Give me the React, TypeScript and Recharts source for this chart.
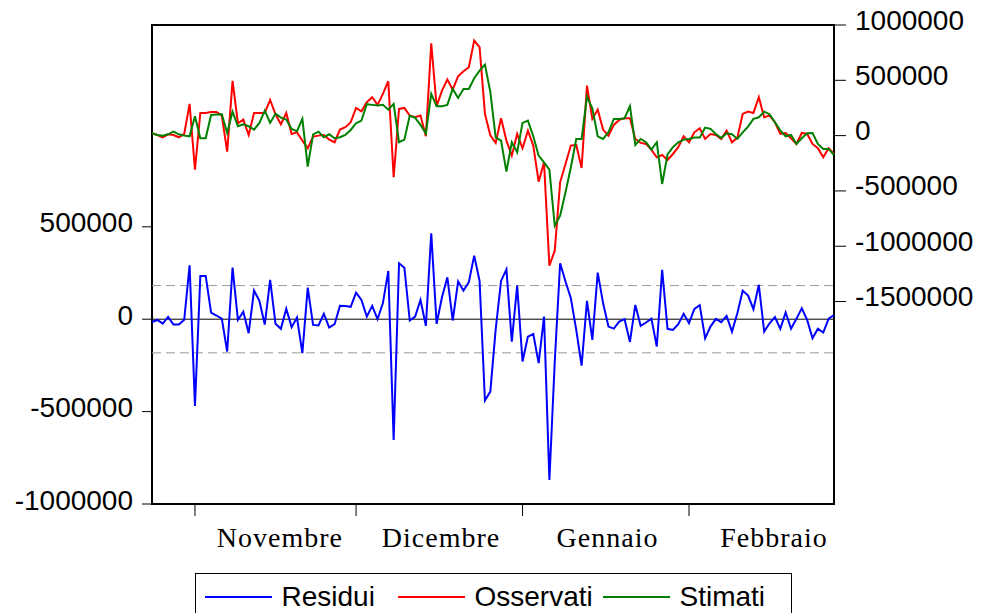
import { LineChart, Line, XAxis, YAxis, ReferenceLine, ReferenceArea } from "recharts";

// valori giornalieri dal 24 ottobre al 28 febbraio
const residui = [
  -15000, -4000, -24000, 12000, -29000, -29000, -3000, 292000, -469000, 234000,
  234000, 36000, 20000, 3000, -175000, 279000, -4000, 41000, -76000, 155000,
  99000, -29000, 213000, -25000, -52000, 57000, -43000, 9000, -184000, 171000,
  -31000, -34000, 29000, -45000, -27000, 72000, 71000, 67000, 144000, 104000,
  14000, 72000, 0, 87000, 261000, -653000, 303000, 279000, -7000, 14000,
  104000, -36000, 465000, -25000, 119000, 227000, -7000, 204000, 155000, 200000,
  344000, 207000, -440000, -392000, -55000, 207000, 270000, -121000, 182000, -229000,
  -94000, -80000, -238000, 14000, -870000, -230000, 303000, 204000, 114000, -58000,
  -251000, 99000, -112000, 252000, 87000, -40000, -51000, -13000, 0, -123000,
  77000, -36000, -18000, 3000, -148000, 267000, -52000, -58000, -27000, 29000,
  -22000, 56000, 76000, -103000, -40000, 2000, -16000, 18000, -67000, 32000,
  155000, 128000, 54000, 186000, -67000, -22000, 11000, -52000, 36000, -52000,
  2000, 59000, -4000, -103000, -52000, -72000, 3000, 23000,
];

const osservati = [
  21000, 6000, -15000, 12000, 6000, -15000, 15000, 287000, -307000, 205000,
  205000, 214000, 214000, 181000, -145000, 495000, 112000, 145000, 6000, 205000,
  205000, 205000, 323000, 193000, 103000, 205000, 15000, 30000, -45000, -114000,
  -9000, 0, 5000, -36000, -60000, 55000, 76000, 121000, 250000, 220000,
  302000, 347000, 278000, 377000, 492000, -376000, 241000, 250000, 181000, 166000,
  181000, -6000, 835000, 266000, 407000, 507000, 416000, 537000, 582000, 618000,
  859000, 799000, 196000, 3000, -66000, 157000, -45000, -181000, 15000, -114000,
  45000, -90000, -416000, -241000, -1175000, -1040000, -422000, -256000, -90000, -84000,
  -292000, 452000, 151000, 235000, 55000, 0, 97000, 142000, 157000, 157000,
  -30000, -66000, -75000, -129000, -196000, -175000, -220000, -166000, -105000, -6000,
  -60000, 30000, 67000, -30000, 15000, 6000, -30000, 45000, -60000, -18000,
  196000, 217000, 205000, 347000, 166000, 181000, 121000, 15000, 24000, -24000,
  -75000, 24000, 15000, -75000, -114000, -196000, -114000, -166000,
];

const stimati = [
  21000, 6000, 0, 12000, 36000, 12000, 0, -6000, 175000, -24000,
  -24000, 187000, 190000, 193000, 24000, 217000, 85000, 103000, 85000, 54000,
  115000, 226000, 115000, 199000, 163000, 145000, 61000, 40000, 151000, -280000,
  12000, 36000, -15000, 12000, -24000, -15000, 6000, 51000, 112000, 136000,
  284000, 278000, 272000, 278000, 235000, 287000, -60000, -36000, 181000, 160000,
  97000, 21000, 377000, 266000, 266000, 278000, 422000, 341000, 422000, 422000,
  519000, 588000, 642000, 395000, -15000, -45000, -325000, -60000, -150000, 115000,
  136000, -6000, -181000, -241000, -307000, -814000, -723000, -512000, -286000, -30000,
  -30000, 353000, 247000, -6000, -30000, 30000, 151000, 151000, 157000, 266000,
  -84000, -30000, -60000, -126000, -60000, -437000, -170000, -105000, -60000, -36000,
  -30000, -18000, -18000, 73000, 61000, 15000, -21000, 21000, 12000, -30000,
  30000, 81000, 151000, 166000, 217000, 193000, 121000, 48000, -6000, 6000,
  -75000, -24000, 21000, 24000, -75000, -120000, -120000, -175000,
];

const monthStarts = [8, 38, 69, 100];
const monthLabels = ["Novembre", "Dicembre", "Gennaio", "Febbraio"];
const leftTicks = [500000, 0, -500000, -1000000];
const rightTicks = [1000000, 500000, 0, -500000, -1000000, -1500000];
const bandLimit = 182000;

const series = [
  { key: "residui", name: "Residui", color: "#0000ff", axis: "left" },
  { key: "osservati", name: "Osservati", color: "#ff0000", axis: "right" },
  { key: "stimati", name: "Stimati", color: "#008000", axis: "right" },
];

const data = residui.map((r, i) => ({
  i,
  residui: r,
  osservati: osservati[i],
  stimati: stimati[i],
}));

const SANS = "'Liberation Sans', Arial, sans-serif";
const SERIF = "'Liberation Serif', 'Times New Roman', serif";

const LeftTick = ({ x, y, payload }: any) => (
  <text x={x} y={y - 4} textAnchor="end" dominantBaseline="central" fontSize={28} fontFamily={SANS} fill="#000">
    {payload.value}
  </text>
);

const RightTick = ({ x, y, payload }: any) => (
  <text x={x} y={y - 5} textAnchor="start" dominantBaseline="central" fontSize={28} fontFamily={SANS} fill="#000">
    {payload.value}
  </text>
);

const MonthTick = ({ x, y, payload }: any) => (
  <text
    x={x + 85}
    y={y + 29}
    textAnchor="middle"
    fontSize={28}
    letterSpacing={1}
    fontFamily={SERIF}
    fill="#000"
  >
    {monthLabels[monthStarts.indexOf(payload.value)]}
  </text>
);

export default function App() {
  return (
    <div style={{ position: "relative", width: 981, height: 613, overflow: "hidden", background: "#fff" }}>
      <style>{"body{margin:0}"}</style>
      <LineChart width={981} height={613} data={data} margin={{ top: 25, right: 27, bottom: 49, left: 52 }}>
        <XAxis
          dataKey="i"
          type="number"
          domain={[0, 127]}
          ticks={monthStarts}
          interval={0}
          height={60}
          tickSize={12}
          axisLine={false}
          tickLine={{ stroke: "#000" }}
          tick={<MonthTick />}
        />
        <YAxis
          yAxisId="left"
          orientation="left"
          width={100}
          domain={[-1000000, 1592000]}
          ticks={leftTicks}
          interval={0}
          tickSize={10}
          tickMargin={9}
          axisLine={false}
          tickLine={{ stroke: "#000" }}
          tick={<LeftTick />}
        />
        <YAxis
          yAxisId="right"
          orientation="right"
          width={120}
          domain={[-3330000, 1000000]}
          ticks={rightTicks}
          interval={0}
          tickSize={12}
          tickMargin={9}
          axisLine={false}
          tickLine={{ stroke: "#000" }}
          tick={<RightTick />}
        />
        <ReferenceLine yAxisId="left" y={bandLimit} stroke="#9a9a9a" strokeDasharray="9 5" />
        <ReferenceLine yAxisId="left" y={-bandLimit} stroke="#9a9a9a" strokeDasharray="9 5" />
        <ReferenceLine yAxisId="left" y={0} stroke="#000" />
        {series.map((s) => (
          <Line
            key={s.key}
            yAxisId={s.axis}
            dataKey={s.key}
            name={s.name}
            type="linear"
            stroke={s.color}
            strokeWidth={2}
            dot={false}
            isAnimationActive={false}
          />
        ))}
        <ReferenceArea
          yAxisId="right"
          x1={0}
          x2={127}
          y1={-3330000}
          y2={1000000}
          fill="none"
          fillOpacity={0}
          stroke="#000"
          strokeWidth={2}
        />
      </LineChart>
      <div
        style={{
          position: "absolute",
          left: 195,
          top: 573,
          width: 597,
          height: 60,
          border: "1.5px solid #000",
          boxSizing: "border-box",
          fontFamily: SANS,
          fontSize: 28,
        }}
      >
        {series.map((s, idx) => (
          <div
            key={s.key}
            style={{
              position: "absolute",
              left: [8.5, 201.5, 406.5][idx],
              top: 6,
              display: "flex",
              alignItems: "center",
              height: 34,
            }}
          >
            <span style={{ display: "inline-block", width: 67, height: 2, background: s.color, marginRight: 10 }} />
            <span>{s.name}</span>
          </div>
        ))}
      </div>
    </div>
  );
}
